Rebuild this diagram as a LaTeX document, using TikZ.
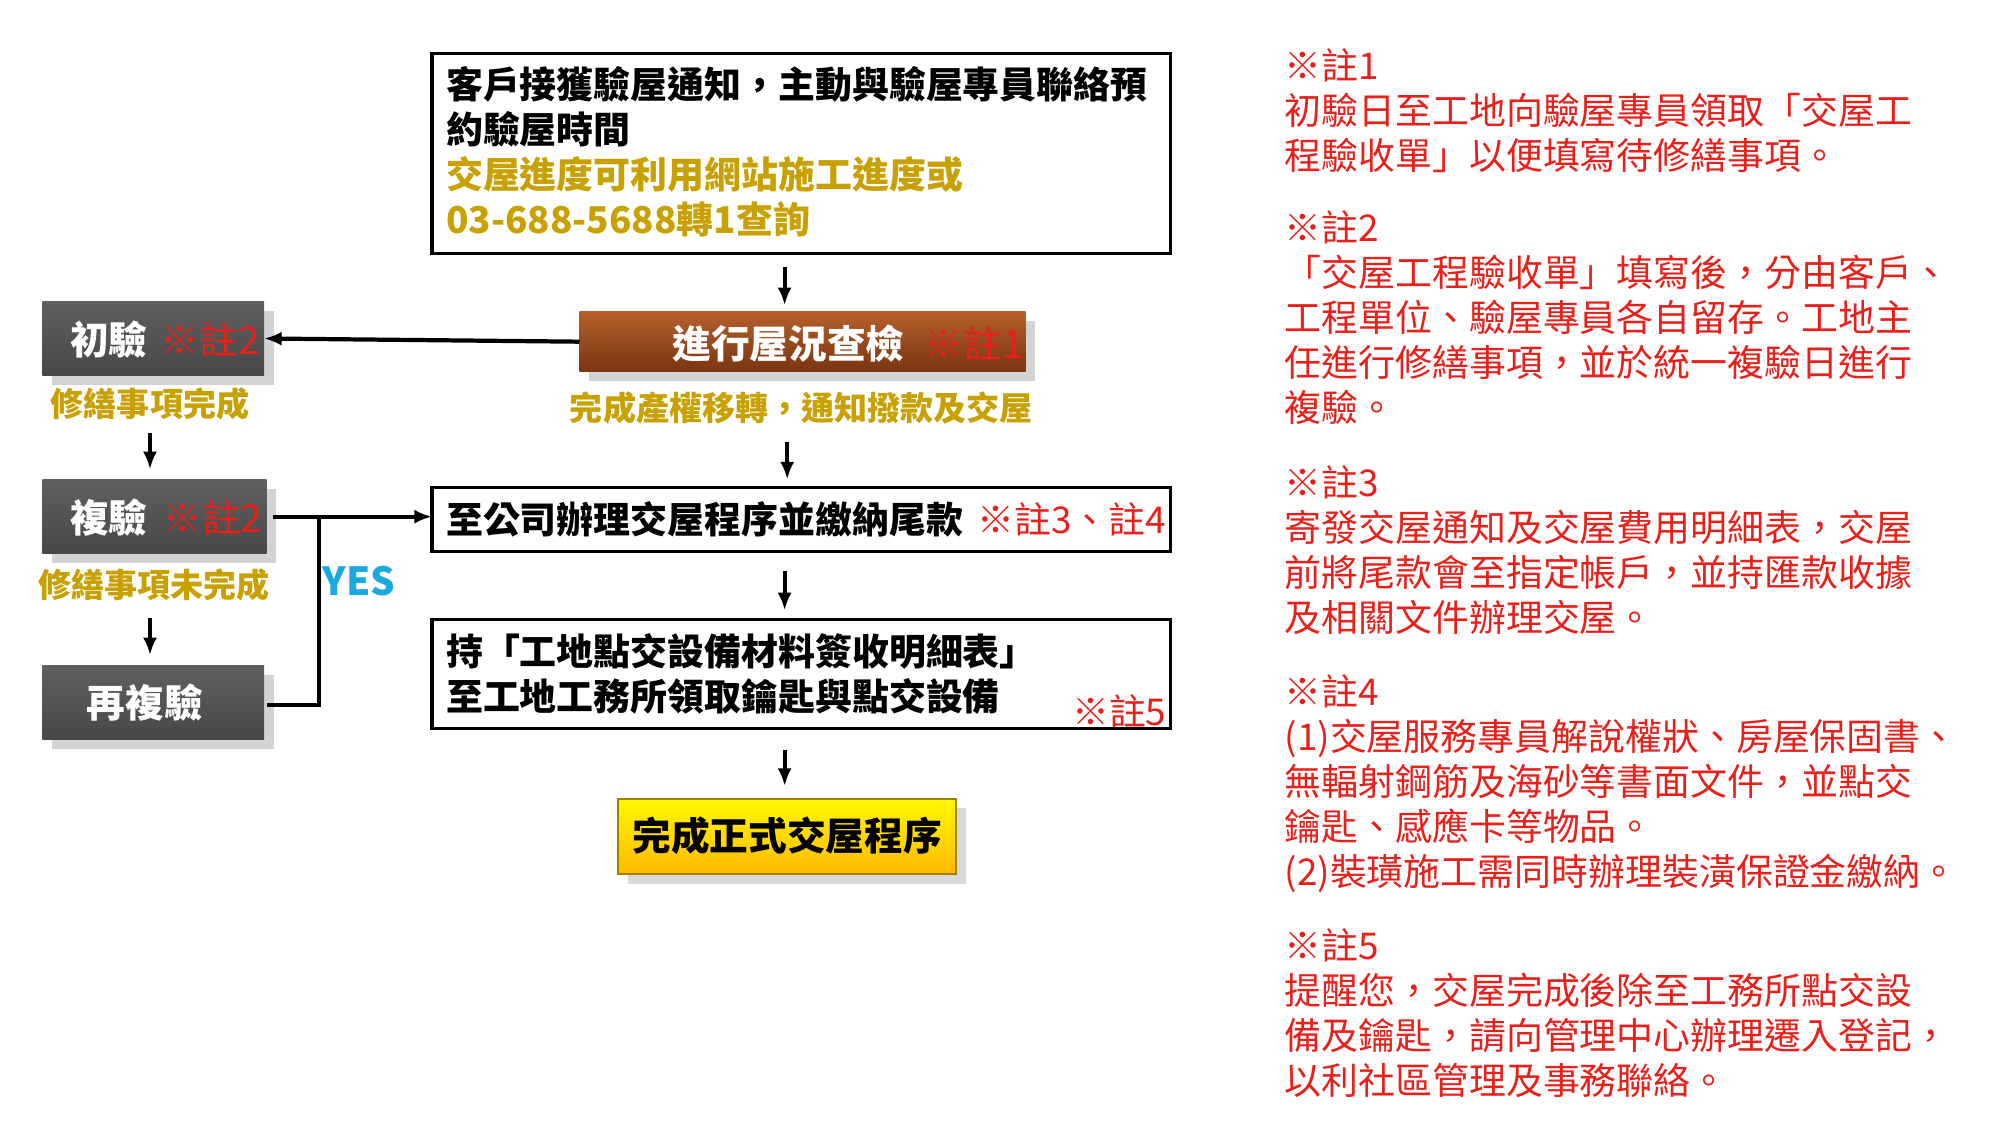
\documentclass[tikz,border=0pt]{standalone}
\usepackage{fontspec}
\setmainfont{Noto Sans CJK TC}
\usetikzlibrary{shadows,arrows.meta,fit}
\definecolor{gold}{HTML}{C8A000}
\definecolor{nred}{HTML}{E8201A}
\definecolor{ycyan}{HTML}{1AA8E0}
\definecolor{brtop}{HTML}{B5602A}
\definecolor{brbot}{HTML}{7A3512}
\newcommand{\fsz}{\fontsize{10.5}{12.8}\selectfont}
\newcommand{\gsz}{\fontsize{9.4}{11}\selectfont}
\tikzset{
 x=0.012821cm,y=-0.012821cm,
 every node/.style={inner sep=0pt,outer sep=0pt},
 plain/.style={draw=black,line width=0.9pt,fill=white},
 graybox/.style={draw=none,top color=gray!75!black,bottom color=black!72,drop shadow={opacity=0.35}},
 ar/.style={-{Latex[length=5pt,width=4pt]},line width=1.2pt},
 ln/.style={line width=1.2pt},
 t/.style={font=\fsz\bfseries,anchor=west},
 nt/.style={font=\fsz,text=nred,anchor=north west,align=left},
 big/.style={font=\fontsize{11}{13}\selectfont\bfseries,text=white},
 bign/.style={font=\fontsize{11}{13}\selectfont,text=nred},
 gl/.style={font=\gsz\bfseries,text=gold},
}
\begin{document}
\begin{tikzpicture}
\useasboundingbox (0,0) rectangle (1560,877.5);
% top box
\node[plain,fit={(337,42) (913,198)}] (top) {};
\node[t,anchor=north west,align=left] (toptxt) at (348,52) {客戶接獲驗屋通知，主動與驗屋專員聯絡預\\約驗屋時間\\\textcolor{gold}{交屋進度可利用網站施工進度或}\\\textcolor{gold}{03-688-5688轉1查詢}};
% brown box
\node[draw=none,fit={(452,243) (800,290)},top color=brtop,bottom color=brbot,drop shadow={opacity=0.35}] (insp) {};
\node[big] (insptxt) at (615,268) {進行屋況查檢};
\node[bign] (n1) at (760,268) {※註1};
\node[gl] (transfer) at (625,318) {完成產權移轉，通知撥款及交屋};
% left gray boxes
\node[graybox,fit={(33,235) (206,293)}] (b1) {};
\node[big] (b1t) at (85,265) {初驗};
\node[bign] (b1n) at (164,265) {※註2};
\node[gl] (done1) at (117,315) {修繕事項完成};
\node[graybox,fit={(33,374) (208,432)}] (b2) {};
\node[big] (b2t) at (85,404) {複驗};
\node[bign] (b2n) at (166,404) {※註2};
\node[gl] (done2) at (120,456) {修繕事項未完成};
\node[graybox,fit={(33,519) (206,577)}] (b3) {};
\node[big] (b3t) at (113,548) {再複驗};
\node[font=\fontsize{11}{13}\selectfont\bfseries,text=ycyan] (yes) at (280,453) {YES};
% box3
\node[plain,fit={(337,380) (913,430)}] (box3) {};
\node[t] (pay) at (348,405) {至公司辦理交屋程序並繳納尾款};
\node[font=\fsz,text=nred] (n34) at (836,405) {※註3、註4};
% box4
\node[plain,fit={(337,483) (913,568)}] (box4) {};
\node[t,anchor=north west,align=left] (keys) at (348,494) {持「工地點交設備材料簽收明細表」\\至工地工務所領取鑰匙與點交設備};
\node[font=\fsz,text=nred] (n5) at (873,555) {※註5};
% final
\node[draw=gold!80!black,line width=0.6pt,fit={(482,623) (746,682)},top color=yellow!95!orange,bottom color=orange!55!yellow,drop shadow={opacity=0.3}] (fin) {};
\node[font=\fontsize{11}{13}\selectfont\bfseries] (fint) at (614,652) {完成正式交屋程序};
% arrows
\coordinate (a1s) at (612,208); \coordinate (a1e) at (612,238);
\draw[ar] (a1s) -- (a1e);
\draw[ar] (insp.west) -- (b1.east);
\coordinate (a2s) at (117,338); \coordinate (a2e) at (117,366);
\draw[ar] (a2s) -- (a2e);
\coordinate (a3s) at (614,345); \coordinate (a3e) at (614,374);
\draw[ar] (a3s) -- (a3e);
\coordinate (a4s) at (117,482); \coordinate (a4e) at (117,511);
\draw[ar] (a4s) -- (a4e);
\coordinate (a5s) at (612,445); \coordinate (a5e) at (612,476);
\draw[ar] (a5s) -- (a5e);
\coordinate (a6s) at (612,585); \coordinate (a6e) at (612,613);
\draw[ar] (a6s) -- (a6e);
\coordinate (b2r) at (213,403); \coordinate (j1) at (249,403);
\coordinate (j2) at (249,550); \coordinate (b3r) at (208,550);
\draw[ar] (b2r) -- (box3.west |- b2r);
\draw[ln] (j1) -- (j2) -- (b3r);
% notes
\node[nt] (note1) at (1002,38) {※註1\\初驗日至工地向驗屋專員領取「交屋工\\程驗收單」以便填寫待修繕事項。};
\node[nt] (note2) at (1002,164) {※註2\\「交屋工程驗收單」填寫後，分由客戶、\\工程單位、驗屋專員各自留存。工地主\\任進行修繕事項，並於統一複驗日進行\\複驗。};
\node[nt] (note3) at (1002,363) {※註3\\寄發交屋通知及交屋費用明細表，交屋\\前將尾款會至指定帳戶，並持匯款收據\\及相關文件辦理交屋。};
\node[nt] (note4) at (1002,526) {※註4\\(1)交屋服務專員解說權狀、房屋保固書、\\無輻射鋼筋及海砂等書面文件，並點交\\鑰匙、感應卡等物品。\\(2)裝璜施工需同時辦理裝潢保證金繳納。};
\node[nt] (note5) at (1002,724) {※註5\\提醒您，交屋完成後除至工務所點交設\\備及鑰匙，請向管理中心辦理遷入登記，\\以利社區管理及事務聯絡。};
\end{tikzpicture}
\end{document}
